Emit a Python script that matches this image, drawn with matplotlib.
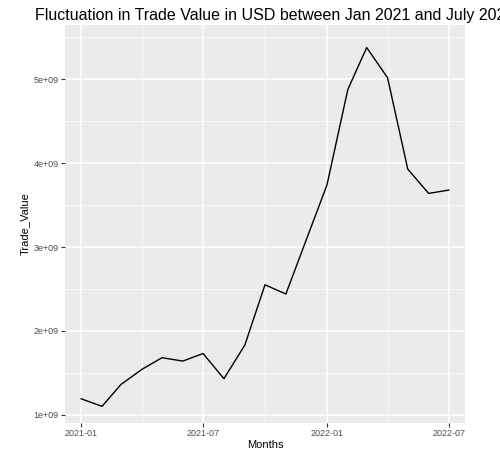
import numpy as np
import pandas as pd
import matplotlib.pyplot as plt
import matplotlib.dates as mdates
from matplotlib.ticker import FuncFormatter

plt.rcParams['font.family'] = ['Liberation Sans', 'DejaVu Sans']

months = pd.date_range('2021-01-01', '2022-07-01', freq='MS')
trade_value = [1.19e9, 1.10e9, 1.36e9, 1.54e9, 1.68e9, 1.64e9, 1.73e9, 1.43e9, 1.83e9,
               2.55e9, 2.44e9, 3.08e9, 3.74e9, 4.88e9, 5.38e9, 5.02e9, 3.93e9, 3.64e9, 3.68e9]

fig = plt.figure(figsize=(5, 4.53), dpi=100)
ax = fig.add_axes([0.13, 0.066, 0.80, 0.879])
ax.set_facecolor('#EBEBEB')
ax.plot(months, trade_value, color='black', lw=1)

ax.set_ylim(0.9e9, 5.65e9)
ax.set_xlim(pd.Timestamp('2020-12-08'), pd.Timestamp('2022-07-25'))
ax.set_yticks([1e9, 2e9, 3e9, 4e9, 5e9])
ax.yaxis.set_minor_locator(plt.FixedLocator([1.5e9, 2.5e9, 3.5e9, 4.5e9, 5.5e9]))
ax.yaxis.set_major_formatter(FuncFormatter(lambda v, p: '%de+09' % round(v / 1e9)))
xt = pd.to_datetime(['2021-01-01', '2021-07-01', '2022-01-01', '2022-07-01'])
ax.set_xticks(xt)
ax.set_xticks(pd.to_datetime(['2021-04-01', '2021-10-01', '2022-04-01']), minor=True)
ax.xaxis.set_major_formatter(mdates.DateFormatter('%Y-%m'))

ax.grid(which='major', color='white', lw=1.1)
ax.grid(which='minor', color='white', lw=0.5)
ax.set_axisbelow(True)
for s in ax.spines.values():
    s.set_visible(False)
ax.tick_params(which='major', length=3, pad=1.5, color='#333333', labelsize=6.5, labelcolor='#4D4D4D')
ax.tick_params(which='minor', length=0)
ax.set_xlabel('Months', fontsize=8, labelpad=1)
ax.set_ylabel('Trade_Value', fontsize=8, labelpad=3)
fig.text(0.07, 0.955, 'Fluctuation in Trade Value in USD between Jan 2021 and July 2022', fontsize=11.5)

fig.savefig('out.png')
